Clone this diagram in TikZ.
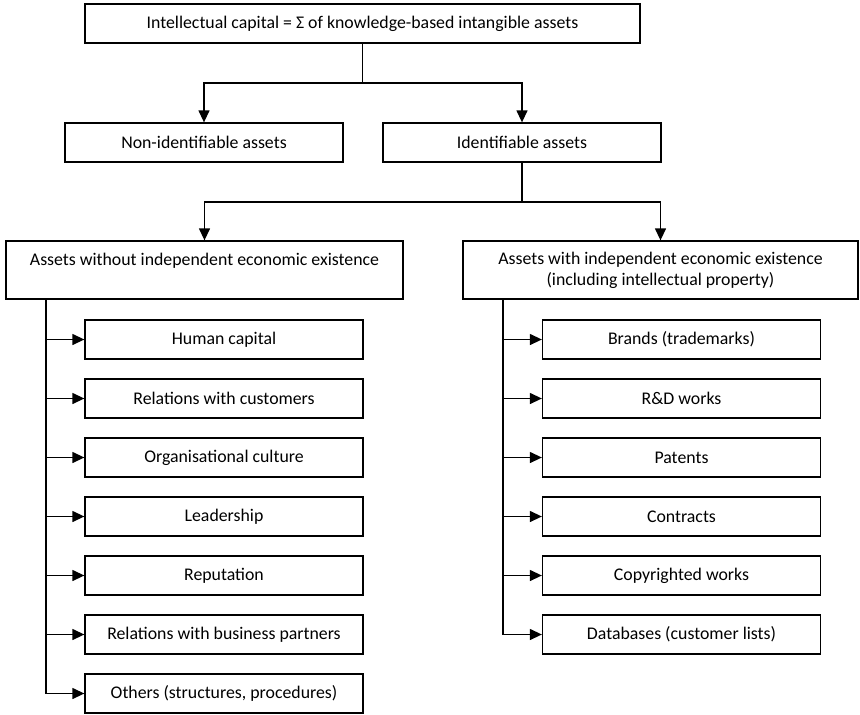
\documentclass[tikz,border=0pt]{standalone}
\usepackage{fontspec}
\setmainfont{Carlito}
\usetikzlibrary{arrows.meta}

\begin{document}
\begin{tikzpicture}[x=1pt,y=-1pt,
  box/.style={draw,line width=1.3pt,inner sep=0pt,align=center,
    font=\fontsize{17.8}{21}\selectfont},
  item/.style={box,minimum width=278,minimum height=39},
  arr/.style={line width=1.3pt,-{Triangle[length=12pt,width=11pt]}}]

% ---------- Parameter ----------
\def\xspineL{46}
\def\xspineR{503}
\def\ytop{339.5}
\def\rowgap{59}

\useasboundingbox (0,0) rectangle (860,715);

% ===================
% oben: Kapital und zwei Gruppen
% ===================
\node[box,minimum width=555,minimum height=39] (ic) at (362.5,23.5)
  {Intellectual capital = Σ of knowledge-based intangible assets};
\node[item] (nonid) at (204,142.5) {Non-identifiable assets};
\node[item] (ident) at (522,142.5) {Identifiable assets};

\coordinate (split1) at (362.5,83);
\draw[line width=1.3pt] (ic.south) -- (split1);
\draw[arr] (split1) -| (nonid.north);
\draw[arr] (split1) -| (ident.north);

% ===================
% Mitte: mit / ohne eigenständige Existenz
% ===================
\node[box,minimum width=397,minimum height=58] (without) at (204.5,270)
  {Assets without independent economic existence\\\mbox{}};
\node[box,minimum width=395,minimum height=58] (with) at (660.5,270)
  {Assets with independent economic existence\\(including intellectual property)};

\coordinate (split2) at (522,202);
\draw[line width=1.3pt] (ident.south) -- (split2);
\draw[arr] (split2) -| (without.north);
\draw[arr] (split2) -| (with.north);

% ===================
% unten links: ohne eigenständige Existenz
% ===================
\coordinate (spineL) at (without.south -| \xspineL,0);
\foreach \txt [count=\i from 0] in {Human capital,Relations with customers,
    Organisational culture,Leadership,Reputation,
    Relations with business partners,{Others (structures, procedures)}}{
  \node[item] (left\i) at (224,{\ytop+\i*\rowgap}) {\txt};
  \draw[arr] (spineL) |- (left\i.west);
}

% ===================
% unten rechts: mit eigenständiger Existenz
% ===================
\coordinate (spineR) at (with.south -| \xspineR,0);
\foreach \txt [count=\i from 0] in {Brands (trademarks),R\&D works,Patents,
    Contracts,Copyrighted works,Databases (customer lists)}{
  \node[item] (right\i) at (681.5,{\ytop+\i*\rowgap}) {\txt};
  \draw[arr] (spineR) |- (right\i.west);
}

\end{tikzpicture}
\end{document}
